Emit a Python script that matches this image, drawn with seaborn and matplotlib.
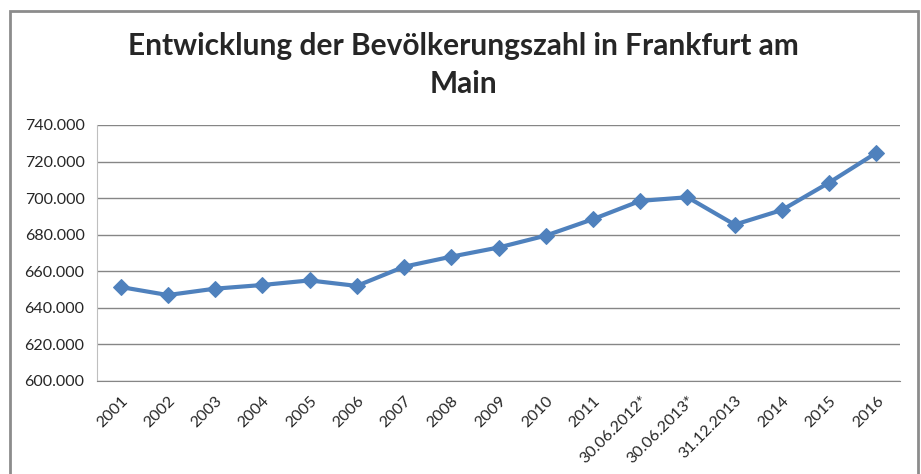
import numpy as np
import pandas as pd
import matplotlib
matplotlib.use("Agg")
import matplotlib.pyplot as plt
import seaborn as sns
from matplotlib.patches import Rectangle
from matplotlib.ticker import FuncFormatter, FixedLocator

# =====================================================
# DATA
# =====================================================

labels = [
    "2001", "2002", "2003", "2004", "2005", "2006", "2007", "2008",
    "2009", "2010", "2011", "30.06.2012*", "30.06.2013*", "31.12.2013",
    "2014", "2015", "2016",
]

population = [
    651400, 647000, 650500, 652500, 655000, 652000, 662500, 668000,
    673000, 679500, 688500, 698500, 700500, 685500, 693500, 708500, 724800,
]

yticks = [600000, 620000, 640000, 660000, 680000, 700000, 720000, 740000]

df = pd.DataFrame({"Zeitpunkt": labels, "Einwohner": population})

# =====================================================
# STYLE
# =====================================================

sns.set_style("white")
plt.rcParams["font.family"] = ["Lato", "DejaVu Sans"]

blue = "#4F81BD"
grid_grey = "#868686"

fig = plt.figure(figsize=(9.21, 4.74), dpi=100)
ax = fig.add_axes([97 / 921, 1 - 381 / 474, 803 / 921, 256 / 474])

# =====================================================
# LINE
# =====================================================

sns.lineplot(
    data=df,
    x="Zeitpunkt",
    y="Einwohner",
    sort=False,
    color=blue,
    linewidth=3,
    marker="D",
    markersize=8,
    markeredgecolor=blue,
    ax=ax,
)

n = len(labels)
ax.set_xlim(-0.5, n - 0.5)
ax.set_ylim(600000, 740000)
ax.set_yticks(yticks)
ax.yaxis.set_major_formatter(
    FuncFormatter(lambda v, p: f"{int(v):,}".replace(",", "."))
)
ax.yaxis.grid(True, color=grid_grey, linewidth=1)
ax.set_axisbelow(True)

ax.set_xticks(range(n))
ax.set_xticklabels(labels, rotation=45, ha="right", rotation_mode="anchor")
ax.xaxis.set_minor_locator(FixedLocator(np.arange(-0.5, n, 1)))
ax.tick_params(axis="x", which="major", length=0, pad=9, labelsize=11.5)
ax.tick_params(axis="x", which="minor", length=5, color=grid_grey, direction="out")
ax.tick_params(axis="y", length=5, color=grid_grey, direction="out", labelsize=11.5, pad=4)

ax.set_xlabel("")
ax.set_ylabel("")

for side in ["top", "right"]:
    ax.spines[side].set_visible(False)
ax.spines["left"].set_color("#BFBFBF")
ax.spines["bottom"].set_color(grid_grey)

fig.text(
    463 / 921, 1 - 65 / 474,
    "Entwicklung der Bevölkerungszahl in Frankfurt am\nMain",
    ha="center", va="center", fontsize=21.5, fontweight="bold",
    linespacing=1.45,
)

# chart frame
fig.patches.append(Rectangle(
    (10 / 921, -0.05), 908 / 921, 1 - 11 / 474 + 0.05,
    transform=fig.transFigure, fill=False,
    edgecolor="#8C8C8C", linewidth=2,
))

fig.savefig("out.png", dpi=100)
